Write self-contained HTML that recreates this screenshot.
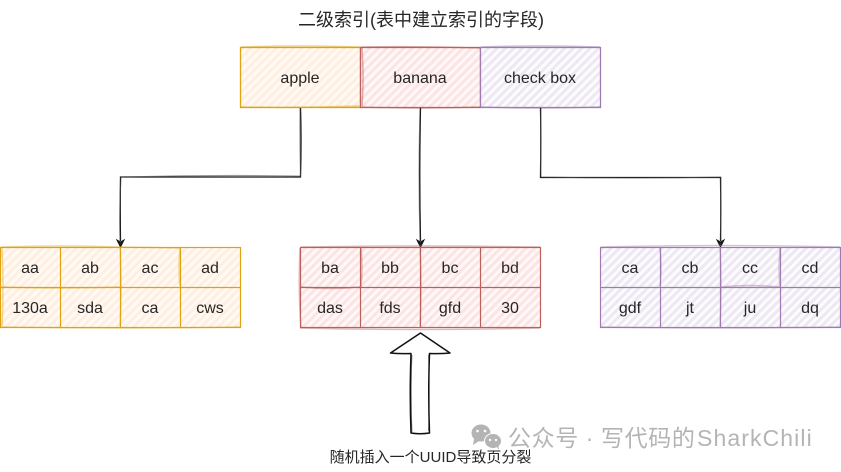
<!DOCTYPE html>
<html>
<head>
<meta charset="utf-8">
<style>
html,body{margin:0;padding:0;background:#fff;width:841px;height:472px;overflow:hidden}
svg{display:block}
text{font-family:"Liberation Sans","Noto Sans CJK SC",sans-serif;fill:#262626;text-anchor:middle}
.c{font-size:16px}
</style>
</head>
<body>
<svg width="841" height="472" viewBox="0 0 841 472" xmlns="http://www.w3.org/2000/svg">
<defs>
<pattern id="ho" width="6" height="6" patternUnits="userSpaceOnUse" patternTransform="rotate(45)"><rect width="6" height="6" fill="#fffaf5"/><rect width="3" height="6" fill="#ffefe0"/></pattern>
<pattern id="hr" width="6" height="6" patternUnits="userSpaceOnUse" patternTransform="rotate(45)"><rect width="6" height="6" fill="#fef8f8"/><rect width="3" height="6" fill="#fbe4e3"/></pattern>
<pattern id="hp" width="6" height="6" patternUnits="userSpaceOnUse" patternTransform="rotate(45)"><rect width="6" height="6" fill="#fcfbfd"/><rect width="3" height="6" fill="#eee8f2"/></pattern>
</defs>

<text x="421" y="26" font-size="18">二级索引(表中建立索引的字段)</text>

<!-- top row -->
<g stroke-width="1.3">
<rect x="240.500" y="47.500" width="120" height="60" fill="url(#ho)" stroke="#e0a30f"/>
<rect x="360.500" y="47.500" width="120" height="60" fill="url(#hr)" stroke="#bd5f5b"/>
<rect x="480.500" y="47.500" width="120" height="60" fill="url(#hp)" stroke="#a07ab0"/>
</g>
<g fill="none" stroke-width="1.500" opacity=".5">
<path d="M241 47 Q300 45 360 47 M241 107 Q300 108 360 106" stroke="#e0a30f"/>
<path d="M361 47 Q420 46 480 48 M362 107 Q420 109 480 107 M362 48 Q364 80 362 106" stroke="#bd5f5b"/>
<path d="M481 47 Q540 45 600 47 M481 107 Q540 109 600 107" stroke="#a07ab0"/>
</g>
<text class="c" x="300" y="83">apple</text>
<text class="c" x="420" y="83">banana</text>
<text class="c" x="540" y="83">check box</text>

<!-- connectors -->
<g fill="none" stroke="#111" stroke-width="1.300">
<path d="M300.500 108 Q301.500 140 300.500 177 L120.500 177 Q120 210 120.500 241"/>
<path d="M420.500 108 Q419 175 420.500 241"/>
<path d="M540.500 108 Q541 140 540.500 177.500 L720.500 177.500 Q721 210 720.500 241"/>
</g>
<g fill="none" stroke="#555" stroke-width="1" opacity=".6">
<path d="M300 108 Q299.500 140 300.500 176 Q210 174.500 121 177 Q119 210 120 241"/>
<path d="M420 108 Q418 175 420 241"/>
<path d="M541 108 Q540 140 541 177 Q630 179 721 177 Q720 210 721 241"/>
</g>
<g fill="#222" stroke="#111" stroke-width="1">
<path d="M117 240 L120.500 242 L124 240 L120.500 247 Z"/>
<path d="M417 240 L420.500 242 L424 240 L420.500 247 Z"/>
<path d="M717 240 L720.500 242 L724 240 L720.500 247 Z"/>
</g>

<!-- left table -->
<g fill="url(#ho)" stroke="#e0a30f" stroke-width="1.200">
<rect x="0.500" y="247.500" width="240" height="80"/>
<path d="M60.500 247V327M120.500 247V327M180.500 247V327M0 287.500H240" fill="none"/>
</g>
<path d="M1 247 Q60 245 120 247 L180 248 M2 248 Q4 288 2 326 M120 248 Q122 288 120 326 M1 287 Q60 289 120 287 M180 248 Q178 270 180 286 M1 327 Q120 329 240 327" fill="none" stroke="#e0a30f" stroke-width="1.400" opacity=".45"/>

<!-- middle table -->
<g fill="url(#hr)" stroke="#bd5f5b" stroke-width="1.200">
<rect x="300.500" y="247.500" width="240" height="80"/>
<path d="M360.500 247V327M420.500 247V327M480.500 247V327M300 287.500H540" fill="none"/>
</g>
<path d="M300 248 Q298 290 301 328 M361 248 Q363 270 361 287 M301 287 Q330 290 360 287 M300 328 Q420 331 540 328 M420 248 Q422 288 420 326 M301 247 Q420 245 540 247" fill="none" stroke="#bd5f5b" stroke-width="1.400" opacity=".45"/>

<!-- right table -->
<g fill="url(#hp)" stroke="#a07ab0" stroke-width="1.200">
<rect x="600.500" y="247.500" width="240" height="80"/>
<path d="M660.500 247V327M720.500 247V327M780.500 247V327M600 287.500H840" fill="none"/>
</g>
<path d="M601 247 Q720 244 840 247 M660 248 Q662 270 660 286 M720 248 Q722 288 720 326 M720 287 Q750 284 780 287 M780 248 Q778 270 780 287 M601 327 Q720 329 840 327" fill="none" stroke="#a07ab0" stroke-width="1.400" opacity=".45"/>

<g class="c" font-size="16">
<text x="30" y="273">aa</text><text x="90" y="273">ab</text><text x="150" y="273">ac</text><text x="210" y="273">ad</text>
<text x="30" y="313">130a</text><text x="90" y="313">sda</text><text x="150" y="313">ca</text><text x="210" y="313">cws</text>
<text x="330" y="273">ba</text><text x="390" y="273">bb</text><text x="450" y="273">bc</text><text x="510" y="273">bd</text>
<text x="330" y="313">das</text><text x="390" y="313">fds</text><text x="450" y="313">gfd</text><text x="510" y="313">30</text>
<text x="630" y="273">ca</text><text x="690" y="273">cb</text><text x="750" y="273">cc</text><text x="810" y="273">cd</text>
<text x="630" y="313">gdf</text><text x="690" y="313">jt</text><text x="750" y="313">ju</text><text x="810" y="313">dq</text>
</g>

<!-- big arrow -->
<path d="M420.500 333 L450 353 Q440 354 429.500 353.500 Q428 393 429.500 433 Q420 434.500 411 433 Q409.500 393 411 353.500 Q400 354 390.500 353 Z" fill="#fff" stroke="#111" stroke-width="1.500" stroke-linejoin="round"/>
<path d="M419 334 L392 352 M412 355 Q410.500 393 412 432 M428.500 355 Q430 393 428.500 431" fill="none" stroke="#111" stroke-width=".8" opacity=".6"/>

<text x="430.500" y="462" font-size="15">随机插入一个UUID导致页分裂</text>

<!-- watermark -->
<g fill="#b4b4b4">
<ellipse cx="481" cy="433" rx="9.500" ry="8.500"/>
<path d="M474 439 L473 445 L479 441 Z"/>
<circle cx="477.500" cy="431" r="1.300" fill="#fff"/><circle cx="485" cy="431" r="1.300" fill="#fff"/>
<ellipse cx="493" cy="441" rx="8.500" ry="7.500" stroke="#fff" stroke-width="1"/>
<path d="M496 446 L499 450 L498 444 Z"/>
<circle cx="490" cy="440" r="1.200" fill="#fff"/><circle cx="496" cy="440" r="1.200" fill="#fff"/>
</g>
<text x="508" y="446" font-size="23" style="text-anchor:start;fill:#b4b4b4;letter-spacing:.6px">公众号 · 写代码的<tspan x="697" style="letter-spacing:1.100px">SharkChili</tspan></text>
</svg>
</body>
</html>
